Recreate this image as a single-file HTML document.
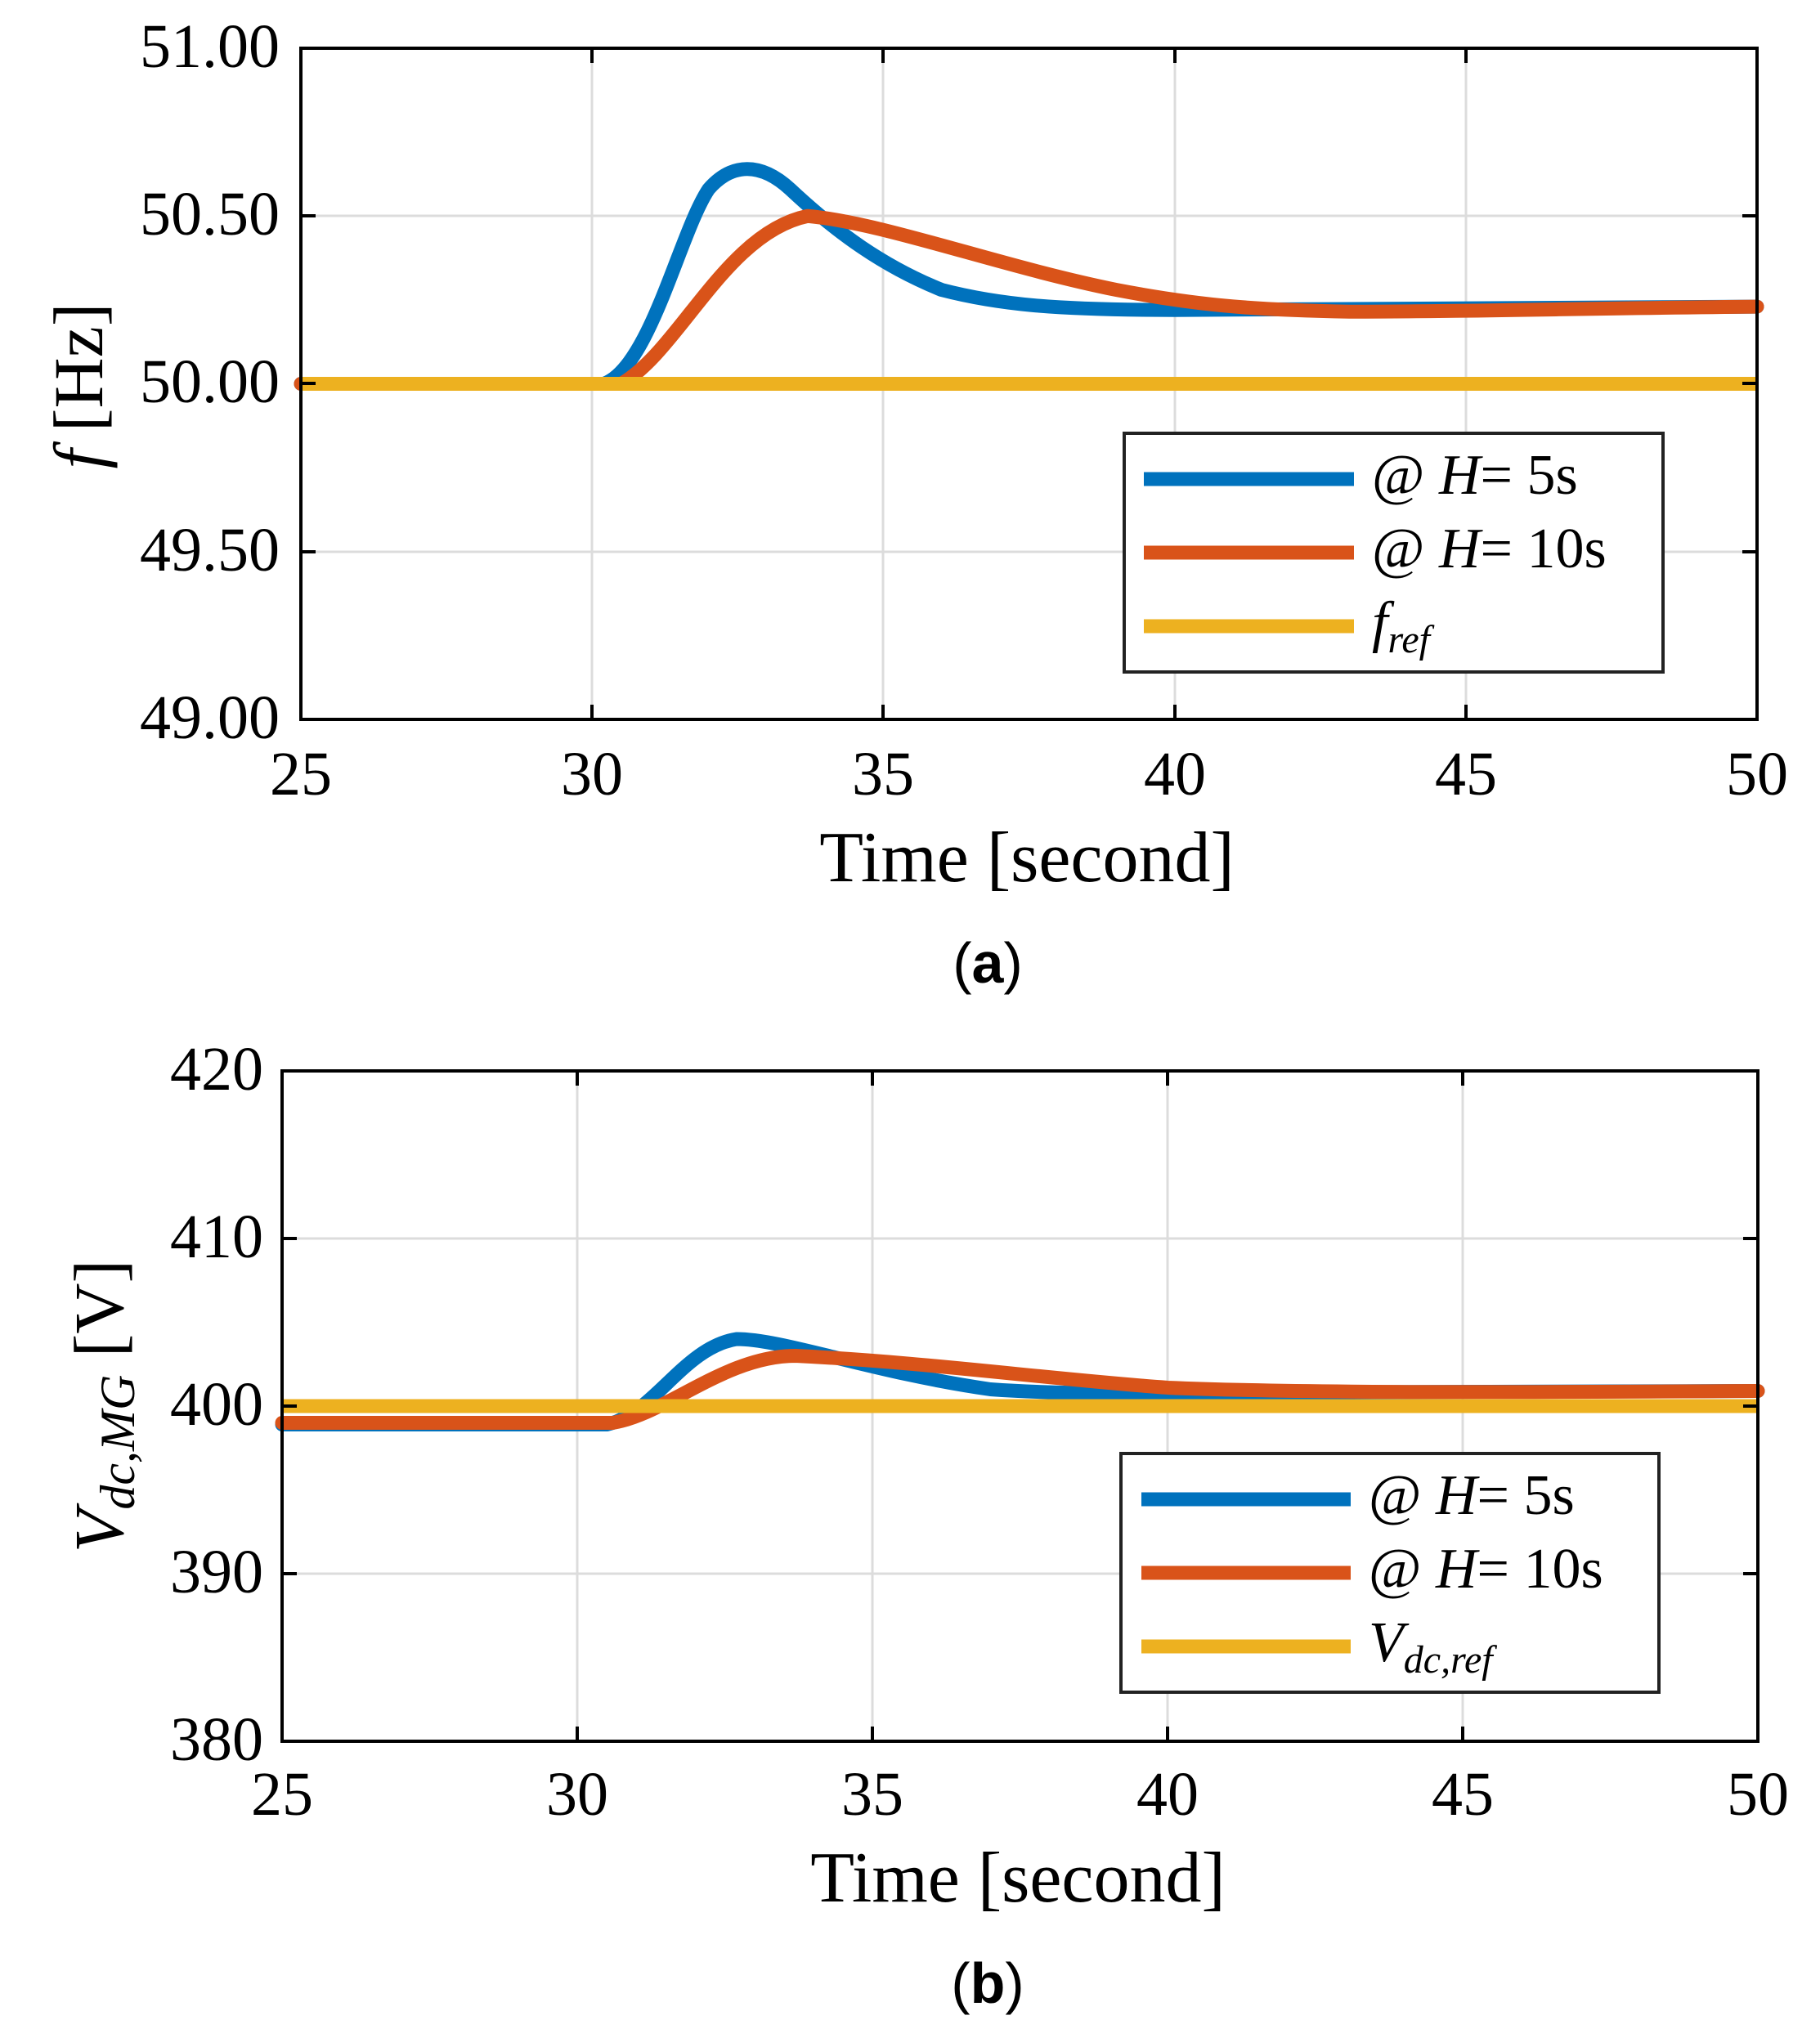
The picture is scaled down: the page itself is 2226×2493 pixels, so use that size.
<!DOCTYPE html>
<html><head><meta charset="utf-8"><style>
html,body{margin:0;padding:0;background:#fff;}
svg{display:block;}
text{font-family:"Liberation Serif",serif;fill:#000;}
</style></head><body>
<svg width="2226" height="2493" viewBox="0 0 2226 2493" xmlns="http://www.w3.org/2000/svg">
<!-- ============ Plot (a) ============ -->
<g stroke="#dcdcdc" stroke-width="3">
<line x1="724" y1="59" x2="724" y2="880"/><line x1="1080" y1="59" x2="1080" y2="880"/>
<line x1="1437" y1="59" x2="1437" y2="880"/><line x1="1793" y1="59" x2="1793" y2="880"/>
<line x1="368" y1="264" x2="2149" y2="264"/><line x1="368" y1="469" x2="2149" y2="469"/>
<line x1="368" y1="675" x2="2149" y2="675"/>
</g>
<g fill="none" stroke-linecap="round" stroke-linejoin="round">
<g transform="translate(368,59) scale(71.24,-410.5) translate(-25,-51)">
<path vector-effect="non-scaling-stroke" stroke="#0072bd" stroke-width="17" d="M25,50 L30.2,50 C31,50.05 31.5,50.45 32.0,50.58 C32.4,50.66 32.9,50.66 33.4,50.58 C34.2,50.45 35,50.35 36,50.28 C37,50.235 38,50.22 40,50.22 L50,50.23"/>
<path vector-effect="non-scaling-stroke" stroke="#d95319" stroke-width="17" d="M25,50 L30.5,50 C31.5,50.1 32.3,50.45 33.7,50.5 C35,50.48 37,50.35 39,50.28 C40.5,50.23 41.5,50.22 43,50.215 C45,50.215 47,50.225 50,50.23"/>
<path vector-effect="non-scaling-stroke" stroke="#edb120" stroke-width="17" stroke-linecap="butt" d="M25,50 L50,50"/>
</g>
</g>
<rect x="368" y="59" width="1781" height="821" fill="none" stroke="#000" stroke-width="4"/>
<g stroke="#000" stroke-width="4">
<line x1="724" y1="880" x2="724" y2="862"/><line x1="1080" y1="880" x2="1080" y2="862"/><line x1="1437" y1="880" x2="1437" y2="862"/><line x1="1793" y1="880" x2="1793" y2="862"/>
<line x1="724" y1="59" x2="724" y2="77"/><line x1="1080" y1="59" x2="1080" y2="77"/><line x1="1437" y1="59" x2="1437" y2="77"/><line x1="1793" y1="59" x2="1793" y2="77"/>
<line x1="368" y1="264" x2="386" y2="264"/><line x1="368" y1="469" x2="386" y2="469"/><line x1="368" y1="675" x2="386" y2="675"/>
<line x1="2149" y1="264" x2="2131" y2="264"/><line x1="2149" y1="469" x2="2131" y2="469"/><line x1="2149" y1="675" x2="2131" y2="675"/>
</g>
<g font-size="76" text-anchor="end">
<text x="342" y="82">51.00</text><text x="342" y="287">50.50</text><text x="342" y="492">50.00</text>
<text x="342" y="698">49.50</text><text x="342" y="903">49.00</text>
</g>
<g font-size="76" text-anchor="middle">
<text x="368" y="972">25</text><text x="724" y="972">30</text><text x="1080" y="972">35</text>
<text x="1437" y="972">40</text><text x="1793" y="972">45</text><text x="2149" y="972">50</text>
</g>
<text x="1256" y="1078" font-size="88" text-anchor="middle">Time [second]</text>
<text x="1208" y="1202" font-size="70" text-anchor="middle" style="font-family:'Liberation Sans',sans-serif">(<tspan font-weight="bold">a</tspan>)</text>
<text transform="translate(125,472) rotate(-90)" font-size="86" text-anchor="middle"><tspan font-style="italic">f</tspan> [Hz]</text>
<!-- legend a -->
<rect x="1375" y="530" width="659" height="292" fill="#fff" stroke="#222" stroke-width="4"/>
<g stroke-width="17">
<line x1="1399" y1="586" x2="1656" y2="586" stroke="#0072bd"/>
<line x1="1399" y1="676" x2="1656" y2="676" stroke="#d95319"/>
<line x1="1399" y1="766" x2="1656" y2="766" stroke="#edb120"/>
</g>
<g font-size="70">
<text x="1678" y="604">@ <tspan font-style="italic">H</tspan>= 5s</text>
<text x="1678" y="694">@ <tspan font-style="italic">H</tspan>= 10s</text>
<text x="1678" y="784" font-style="italic">f<tspan font-size="48" dy="14">ref</tspan></text>
</g>

<!-- ============ Plot (b) ============ -->
<g stroke="#dcdcdc" stroke-width="3">
<line x1="706" y1="1310" x2="706" y2="2130"/><line x1="1067" y1="1310" x2="1067" y2="2130"/>
<line x1="1428" y1="1310" x2="1428" y2="2130"/><line x1="1789" y1="1310" x2="1789" y2="2130"/>
<line x1="345" y1="1515" x2="2150" y2="1515"/><line x1="345" y1="1720" x2="2150" y2="1720"/>
<line x1="345" y1="1925" x2="2150" y2="1925"/>
</g>
<g fill="none" stroke-linecap="round" stroke-linejoin="round">
<g transform="translate(345,1310) scale(72.2,-20.5) translate(-25,-420)">
<path vector-effect="non-scaling-stroke" stroke="#0072bd" stroke-width="17" d="M25,398.9 L30.5,398.9 C31.3,399.5 31.8,403.5 32.7,404 C33.5,404 35,402 37,401 C38,400.75 39,400.75 40,400.8 L50,400.9"/>
<path vector-effect="non-scaling-stroke" stroke="#d95319" stroke-width="17" d="M25,399 L30.6,399 C31.5,399.5 32.5,403 33.7,403 C36,402.6 38,401.6 40,401.1 C42,400.8 45,400.8 50,400.9"/>
<path vector-effect="non-scaling-stroke" stroke="#edb120" stroke-width="17" stroke-linecap="butt" d="M25,400 L50,400"/>
</g>
</g>
<rect x="345" y="1310" width="1805" height="820" fill="none" stroke="#000" stroke-width="4"/>
<g stroke="#000" stroke-width="4">
<line x1="706" y1="2130" x2="706" y2="2112"/><line x1="1067" y1="2130" x2="1067" y2="2112"/><line x1="1428" y1="2130" x2="1428" y2="2112"/><line x1="1789" y1="2130" x2="1789" y2="2112"/>
<line x1="706" y1="1310" x2="706" y2="1328"/><line x1="1067" y1="1310" x2="1067" y2="1328"/><line x1="1428" y1="1310" x2="1428" y2="1328"/><line x1="1789" y1="1310" x2="1789" y2="1328"/>
<line x1="345" y1="1515" x2="363" y2="1515"/><line x1="345" y1="1720" x2="363" y2="1720"/><line x1="345" y1="1925" x2="363" y2="1925"/>
<line x1="2150" y1="1515" x2="2132" y2="1515"/><line x1="2150" y1="1720" x2="2132" y2="1720"/><line x1="2150" y1="1925" x2="2132" y2="1925"/>
</g>
<g font-size="76" text-anchor="end">
<text x="322" y="1333">420</text><text x="322" y="1538">410</text><text x="322" y="1743">400</text>
<text x="322" y="1948">390</text><text x="322" y="2153">380</text>
</g>
<g font-size="76" text-anchor="middle">
<text x="345" y="2220">25</text><text x="706" y="2220">30</text><text x="1067" y="2220">35</text>
<text x="1428" y="2220">40</text><text x="1789" y="2220">45</text><text x="2150" y="2220">50</text>
</g>
<text x="1245" y="2326" font-size="88" text-anchor="middle">Time [second]</text>
<text x="1208" y="2450" font-size="70" text-anchor="middle" style="font-family:'Liberation Sans',sans-serif">(<tspan font-weight="bold">b</tspan>)</text>
<text transform="translate(150,1720) rotate(-90)" font-size="86" text-anchor="middle"><tspan font-style="italic">V</tspan><tspan font-style="italic" font-size="60" dy="14">dc,MG</tspan><tspan dy="-14"> [V]</tspan></text>
<!-- legend b -->
<rect x="1371" y="1778" width="658" height="292" fill="#fff" stroke="#222" stroke-width="4"/>
<g stroke-width="17">
<line x1="1396" y1="1834" x2="1652" y2="1834" stroke="#0072bd"/>
<line x1="1396" y1="1924" x2="1652" y2="1924" stroke="#d95319"/>
<line x1="1396" y1="2014" x2="1652" y2="2014" stroke="#edb120"/>
</g>
<g font-size="70">
<text x="1674" y="1852">@ <tspan font-style="italic">H</tspan>= 5s</text>
<text x="1674" y="1942">@ <tspan font-style="italic">H</tspan>= 10s</text>
<text x="1674" y="2032" font-style="italic">V<tspan font-size="48" dy="14">dc,ref</tspan></text>
</g>
</svg>
</body></html>
